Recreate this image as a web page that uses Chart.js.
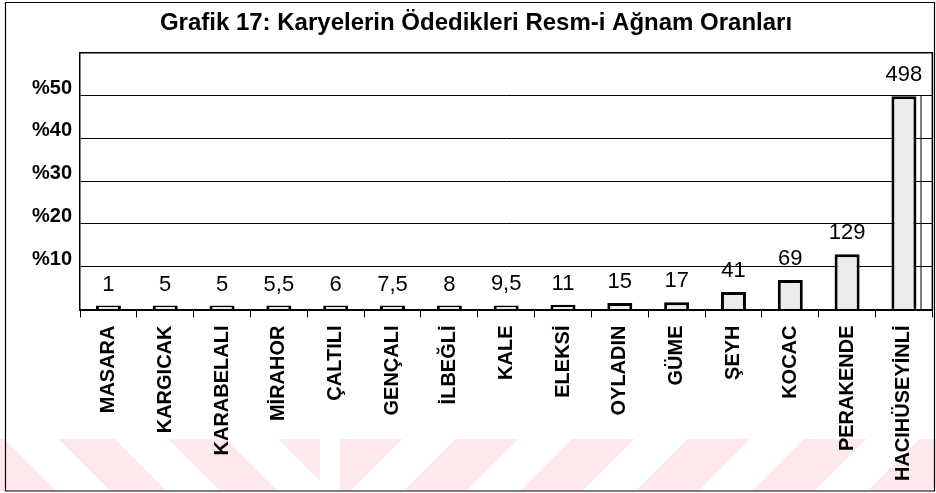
<!DOCTYPE html>
<html>
<head>
<meta charset="utf-8">
<script src="https://cdn.jsdelivr.net/npm/chart.js@4/dist/chart.umd.min.js"></script>
<style>
  html, body { margin: 0; padding: 0; background: #fff; }
  #wrap { position: relative; width: 936px; height: 493px; overflow: hidden; }
  #wmL { position: absolute; left: 0; top: 439px; width: 320px; height: 52px;
         background: repeating-linear-gradient(45deg, #fde9ec 0 40px, #ffffff 40px 78px); }
  #wmR { position: absolute; left: 340px; top: 439px; width: 596px; height: 52px;
         background: repeating-linear-gradient(135deg, #fde9ec 0 44px, #ffffff 44px 82px); }
  canvas { position: absolute; left: 0; top: 0; }
</style>
</head>
<body>
<div id="wrap">
  <div id="wmL"></div>
  <div id="wmR"></div>
  <canvas id="c" width="936" height="493"></canvas>
</div>
<script>
const titleText = 'Grafik 17: Karyelerin Ödedikleri Resm-i Ağnam Oranları';
const categories = ['MASARA','KARGICAK','KARABELALI','MİRAHOR','ÇALTILI','GENÇALI','İLBEĞLİ','KALE','ELEKSİ','OYLADIN','GÜME','ŞEYH','KOCAC','PERAKENDE','HACIHÜSEYİNLİ'];
const values = [1, 5, 5, 5.5, 6, 7.5, 8, 9.5, 11, 15, 17, 41, 69, 129, 498];
const valueLabels = ['1','5','5','5,5','6','7,5','8','9,5','11','15','17','41','69','129','498'];
const yTickValues = [100, 200, 300, 400, 500];
const yTickLabels = ['%10', '%20', '%30', '%40', '%50'];

const FONT = '"Liberation Sans", Arial, sans-serif';

const decor = {
  id: 'decor',
  afterDatasetsDraw(chart) {
    const ctx = chart.ctx;
    const meta = chart.getDatasetMeta(0);
    ctx.save();
    ctx.fillStyle = '#000';
    ctx.font = '22px ' + FONT;
    ctx.textAlign = 'center';
    ctx.textBaseline = 'alphabetic';
    meta.data.forEach((bar, i) => {
      ctx.fillText(valueLabels[i], bar.x, bar.y - 15);
    });
    ctx.restore();
  },
  afterDraw(chart) {
    const ctx = chart.ctx;
    const a = chart.chartArea;
    ctx.save();
    ctx.strokeStyle = '#000';
    ctx.lineWidth = 1.5;
    ctx.beginPath();
    ctx.moveTo(a.left, a.top); ctx.lineTo(a.right, a.top); ctx.lineTo(a.right, a.bottom);
    ctx.stroke();
    // outer frame
    ctx.lineWidth = 1.2;
    ctx.beginPath();
    ctx.rect(5.5, 2.5, 929, 488.5);
    ctx.stroke();
    // inner right line
    const y500 = chart.scales.y.getPixelForValue(500);
    ctx.lineWidth = 1;
    ctx.beginPath();
    ctx.moveTo(921, y500); ctx.lineTo(921, a.bottom);
    ctx.stroke();
    ctx.restore();
  }
};

new Chart(document.getElementById('c'), {
  type: 'bar',
  data: {
    labels: categories,
    datasets: [{
      data: values,
      backgroundColor: '#ebebeb',
      borderColor: '#000',
      borderWidth: 3,
      minBarLength: 4,
      barPercentage: 0.44,
      categoryPercentage: 1.0
    }]
  },
  options: {
    responsive: false,
    animation: false,
    layout: { padding: { left: 18, right: 2, top: 0, bottom: 0 } },
    plugins: {
      legend: { display: false },
      tooltip: { enabled: false },
      title: {
        display: true,
        text: titleText,
        color: '#000',
        font: { family: FONT, size: 24, weight: 'bold', lineHeight: 1.2 },
        padding: { top: 9, bottom: 14.9 }
      }
    },
    scales: {
      y: {
        min: 0, max: 600,
        afterFit(scale) { scale.width = 62; },
        ticks: {
          stepSize: 100,
          color: '#000',
          padding: 8,
          labelOffset: -7.5,
          font: { family: FONT, size: 20, weight: 'bold' },
          callback: (v) => { const i = yTickValues.indexOf(v); return i >= 0 ? yTickLabels[i] : ''; }
        },
        grid: {
          color: '#000', lineWidth: 1, drawTicks: false
        },
        border: { display: true, color: '#000', width: 1.5 }
      },
      x: {
        afterFit(scale) { scale.height = 183.5; },
        ticks: {
          color: '#000',
          minRotation: 90, maxRotation: 90,
          autoSkip: false,
          padding: 8,
          font: { family: FONT, size: 20, weight: 'bold' }
        },
        grid: {
          offset: true, drawOnChartArea: false, drawTicks: true, tickLength: 8,
          color: '#000', lineWidth: 1
        },
        border: { display: true, color: '#000', width: 2 }
      }
    }
  },
  plugins: [decor]
});
</script>
</body>
</html>
